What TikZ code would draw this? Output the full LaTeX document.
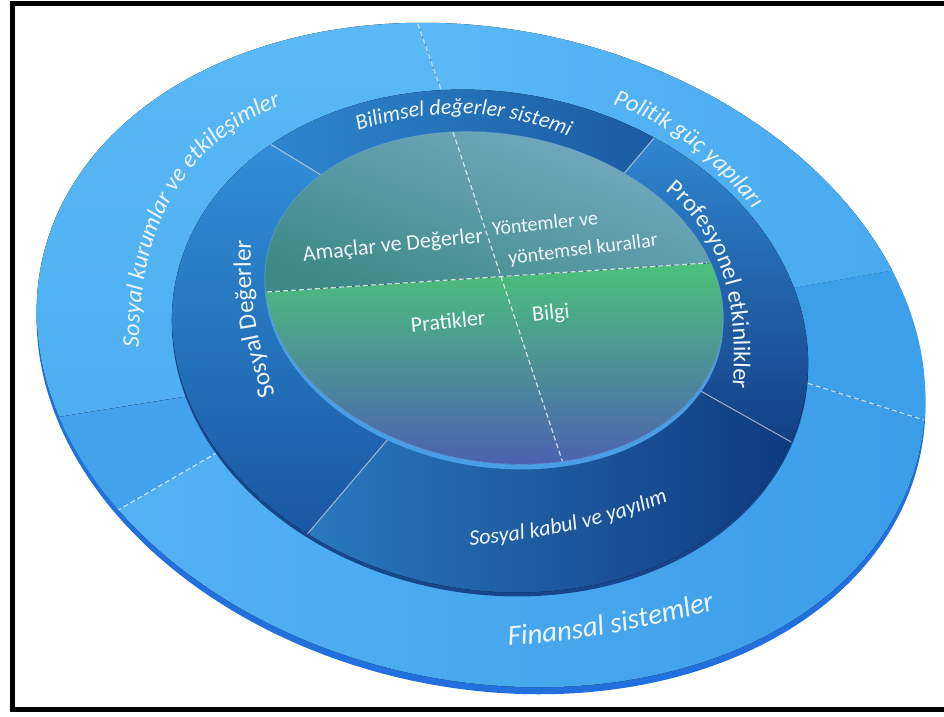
\documentclass[tikz,border=0pt]{standalone}
\usepackage{fontspec}
\setmainfont{Carlito}
\usetikzlibrary{calc,decorations.text}

\definecolor{outerrim}{HTML}{2170DE}
\definecolor{politikA}{HTML}{5BB9F6}
\definecolor{politikB}{HTML}{46A8EF}
\definecolor{bandR}{HTML}{3C9FE9}
\definecolor{finA}{HTML}{55B5F4}
\definecolor{finB}{HTML}{3B9CE9}
\definecolor{bandL}{HTML}{42A3EC}
\definecolor{kurumA}{HTML}{5AB9F6}
\definecolor{kurumB}{HTML}{4CAEF1}
\definecolor{midrim}{HTML}{17468C}
\definecolor{bilA}{HTML}{2F88D0}
\definecolor{bilB}{HTML}{1A5AA0}
\definecolor{profA}{HTML}{3088D2}
\definecolor{profB}{HTML}{133F84}
\definecolor{kabA}{HTML}{2A78BE}
\definecolor{kabB}{HTML}{0F3A7E}
\definecolor{degA}{HTML}{3290DA}
\definecolor{degB}{HTML}{1A58A2}
\definecolor{innerrim}{HTML}{4A9EE6}
\definecolor{upA}{HTML}{78ADC6}
\definecolor{upB}{HTML}{3C8986}
\definecolor{loA}{HTML}{4CC27A}
\definecolor{loM}{HTML}{3EA88A}
\definecolor{loB}{HTML}{4C5CB4}
\definecolor{labeltext}{HTML}{EEF6FB}

% closed ellipse: centre (#1,#2), half axes #3 and #4, turned by #5 degrees
\newcommand\ellpath[5]{plot[domain=0:357.5,samples=144,smooth cycle,variable=\t]
  ({#1+#3*cos(\t)*cos(#5)-#4*sin(\t)*sin(#5)},{#2+#3*cos(\t)*sin(#5)+#4*sin(\t)*cos(#5)})}

% text on a curved baseline through start #1, middle #2 and end #3
\newcommand\arclabel[5]{%
  \coordinate (L0) at #1; \coordinate (L1) at #2; \coordinate (L2) at #3;
  \coordinate (LC) at ($2*(L1)-0.5*(L0)-0.5*(L2)$);
  \coordinate (Q0) at ($1.44*(L0)-0.48*(LC)+0.04*(L2)$);
  \coordinate (Q2) at ($1.44*(L2)-0.48*(LC)+0.04*(L0)$);
  \coordinate (QC) at ($1.48*(LC)-0.24*(L0)-0.24*(L2)$);
  \path[decorate,decoration={text along path,text align=center,text color=labeltext,
      text={|#4|#5}}]
    (Q0) .. controls ($(Q0)!0.6667!(QC)$) and ($(Q2)!0.6667!(QC)$) .. (Q2);
}

\newcommand\fsz[1]{\fontsize{#1}{#1}\selectfont}

\tikzset{
  ringdash/.style={draw=white,draw opacity=0.75,line width=1.1pt,dash pattern=on 5pt off 3pt},
  midline/.style={draw=white,draw opacity=0.6,line width=1pt},
  diskdash/.style={draw=white,draw opacity=0.75,line width=1.2pt,dash pattern=on 5pt off 3pt},
  inlbl/.style={text=labeltext,inner sep=0pt,font=\fsz{22}}
}

\begin{document}
\begin{tikzpicture}[x=1pt,y=1pt]
\useasboundingbox (0,0) rectangle (944,-716);
\fill[white] (0,0) rectangle (944,-716);

% dividing lines of the outer ring (inner end, far end)
\coordinate (D1in) at (475,-187); \coordinate (D1x) at (371,110);
\coordinate (S2in) at (725,-300); \coordinate (S2x) at (1145,-226);
\coordinate (D2in) at (747,-364); \coordinate (D2x) at (1158,-494);
\coordinate (D3in) at (273,-420); \coordinate (D3x) at (-45,-605);
\coordinate (S1in) at (245,-387); \coordinate (S1x) at (-105,-443);
% dividing lines of the middle ring
\coordinate (TLin) at (344,-189); \coordinate (TLx) at (101,-41);
\coordinate (TRin) at (610,-190); \coordinate (TRx) at (736,-41);
\coordinate (BRin) at (667,-372); \coordinate (BRx) at (1027,-575);
\coordinate (BLin) at (417,-405); \coordinate (BLx) at (111,-765);

% ---------- outer ring ----------
\fill[outerrim] \ellpath{481}{-362}{449}{326}{-12};
\begin{scope}
  \clip \ellpath{481}{-355}{449}{326}{-12};
  \begin{scope}
    \clip (D1in)--(D1x)--(1200,110)--(1200,-226)--(S2x)--(S2in)--cycle;
    \fill[left color=politikA,right color=politikB] (400,15) rectangle (935,-300);
  \end{scope}
  \begin{scope}
    \clip (S2in)--(S2x)--(1200,-226)--(1200,-494)--(D2x)--(D2in)--cycle;
    \fill[bandR] (700,-200) rectangle (940,-480);
  \end{scope}
  \begin{scope}
    \clip (D2in)--(D2x)--(1200,-494)--(1200,-900)--(-150,-900)--(-150,-605)--(D3x)--(D3in)--cycle;
    \fill[left color=finA,right color=finB] (30,-370) rectangle (935,-700);
  \end{scope}
  \begin{scope}
    \clip (D3in)--(D3x)--(-150,-605)--(-150,-443)--(S1x)--(S1in)--cycle;
    \fill[bandL] (25,-380) rectangle (300,-560);
  \end{scope}
  \begin{scope}
    \clip (S1in)--(S1x)--(-150,-443)--(-150,110)--(D1x)--(D1in)--cycle;
    \fill[top color=kurumA,bottom color=kurumB] (25,-15) rectangle (480,-440);
  \end{scope}
  \draw[ringdash] (D1in) -- (D1x);
  \draw[ringdash] (D2in) -- (D2x);
  \draw[ringdash] (D3in) -- (D3x);
\end{scope}

% ---------- middle ring ----------
\fill[midrim] \ellpath{490}{-345}{320}{249}{-10};
\begin{scope}
  \clip \ellpath{490}{-341}{320}{249}{-10};
  \begin{scope}
    \clip (TLin)--(TLx)--(101,200)--(736,200)--(TRx)--(TRin)--cycle;
    \fill[left color=bilA,right color=bilB] (255,-80) rectangle (660,-180);
  \end{scope}
  \begin{scope}
    \clip (TRin)--(TRx)--(1100,-41)--(1100,-575)--(BRx)--(BRin)--cycle;
    \fill[top color=profA,bottom color=profB] (610,-130) rectangle (815,-445);
  \end{scope}
  \begin{scope}
    \clip (BRin)--(BRx)--(1027,-800)--(111,-800)--(BLx)--(BLin)--cycle;
    \fill[left color=kabA,right color=kabB] (310,-390) rectangle (795,-598);
  \end{scope}
  \begin{scope}
    \clip (BLin)--(BLx)--(-100,-765)--(-100,-41)--(TLx)--(TLin)--cycle;
    \fill[top color=degA,bottom color=degB] (165,-130) rectangle (390,-530);
  \end{scope}
  \draw[midline] (TLin) -- (TLx);
  \draw[midline] (TRin) -- (TRx);
  \draw[midline] (BRin) -- (BRx);
  \draw[midline] (BLin) -- (BLx);
\end{scope}

% ---------- inner disc ----------
\fill[innerrim] \ellpath{494}{-303}{231}{164}{-10};
\begin{scope}
  \clip \ellpath{494}{-298}{231}{164}{-10};
  \begin{scope}
    \clip (150,-300) -- (850,-254) -- (850,0) -- (150,0) -- cycle;
    \fill[top color=upA,bottom color=upB,shading angle=-20] (255,-125) rectangle (735,-300);
  \end{scope}
  \begin{scope}
    \clip (150,-300) -- (850,-254) -- (850,-600) -- (150,-600) -- cycle;
    \fill[top color=loA,middle color=loM,bottom color=loB] (255,-262) rectangle (735,-475);
  \end{scope}
  \draw[diskdash] (267,-292) -- (707,-263);
  \draw[diskdash] (453,-132) -- (563,-463);
\end{scope}
\draw[innerrim!80!white,line width=0.8pt,opacity=0.6] \ellpath{494}{-298}{231}{164}{-10};

% ---------- texts in the disc ----------
\node[inlbl,rotate=6] (amac) at (393,-246) {Amaçlar ve Değerler};
\node[inlbl,rotate=6,font=\fsz{20}] (yon1) at (545,-223) {Yöntemler ve};
\node[inlbl,rotate=7,font=\fsz{20}] (yon2) at (583,-250) {yöntemsel kurallar};
\node[inlbl,rotate=6] (prat) at (448,-321) {Pratikler};
\node[inlbl,rotate=6] (bilgi) at (551,-314) {Bilgi};

% ---------- texts on the rings ----------
\arclabel{(358,-131)}{(463,-114)}{(568,-136)}{\fsz{22}\itshape}{Bilimsel değerler sistemi}
\arclabel{(612,-104)}{(683,-141)}{(748,-203)}{\fsz{24}\itshape}{Politik güç yapıları}
\arclabel{(139,-347)}{(177,-189)}{(293,-101)}{\fsz{24}\itshape}{Sosyal kurumlar ve etkileşimler}
\arclabel{(658,-185)}{(719,-264)}{(733,-382)}{\fsz{24}}{Profesyonel etkinlikler}
\arclabel{(278,-402)}{(255,-318)}{(252,-232)}{\fsz{25}}{Sosyal Değerler}
\arclabel{(470,-545)}{(575,-530)}{(672,-500)}{\fsz{22}\itshape}{Sosyal kabul ve yayılım}
\arclabel{(505,-646)}{(607,-634)}{(713,-610)}{\fsz{29}\itshape}{Finansal sistemler}

% ---------- frame ----------
\draw[black,line width=5pt] (12.5,-3.5) rectangle (960,-709.5);
\end{tikzpicture}
\end{document}
